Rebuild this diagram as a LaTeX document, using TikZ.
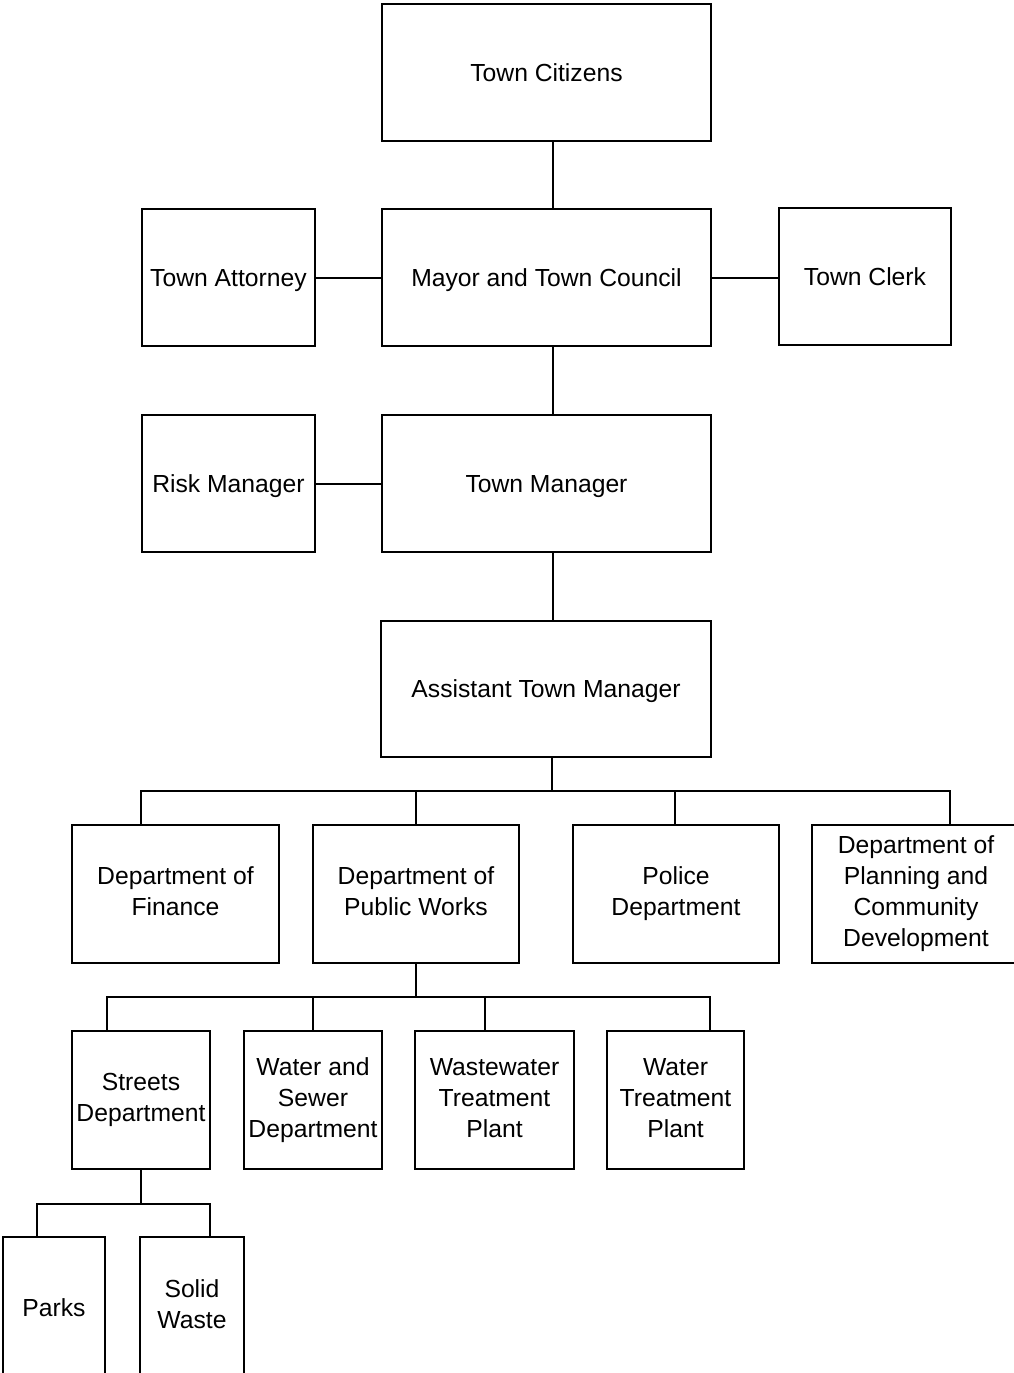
\documentclass[tikz,border=0pt]{standalone}
\usepackage{fontspec}
\setmainfont{Liberation Sans}
\newcommand{\tstrut}{\rule[-5pt]{0pt}{28pt}}
\begin{document}
\begin{tikzpicture}[x={(1pt,0)}, y={(0,-1pt)},
  box/.style={draw, line width=1.9pt, align=center, inner sep=0pt,
    font=\fontsize{24.7}{31}\selectfont,
    execute at begin node=\tstrut, execute at end node=\tstrut},
  link/.style={line width=2pt}]
\fill[white] (0,0) rectangle (1013,1373);
\useasboundingbox (0,0) rectangle (1013,1373);
% top levels
\node[box, minimum width=329, minimum height=137] (cit) at (546.5,72.5) {Town Citizens};
\node[box, minimum width=329, minimum height=137] (mayor) at (546.5,277.5) {Mayor and Town Council};
\node[box, minimum width=173, minimum height=137] (att) at (228.5,277.5) {Town Attorney};
\node[box, minimum width=172, minimum height=137] (clerk) at (865,276.5) {Town Clerk};
\node[box, minimum width=173, minimum height=137] (risk) at (228.5,483.5) {Risk Manager};
\node[box, minimum width=329, minimum height=137] (tm) at (546.5,483.5) {Town Manager};
\node[box, minimum width=330, minimum height=136] (atm) at (546,689) {Assistant Town Manager};
% departments
\node[box, minimum width=207, minimum height=138] (fin) at (175.5,894) {Department of\\Finance};
\node[box, minimum width=206, minimum height=138] (pw) at (416,894) {Department of\\Public Works};
\node[box, minimum width=206, minimum height=138] (pol) at (676,894) {Police\\Department};
\node[box, minimum width=208, minimum height=138] (plan) at (916,894) {Department of\\Planning and\\Community\\Development};
% public works
\node[box, minimum width=138, minimum height=138] (str) at (141,1100) {Streets\\Department};
\node[box, minimum width=138, minimum height=138] (ws) at (313,1100) {Water and\\Sewer\\Department};
\node[box, minimum width=159, minimum height=138] (ww) at (494.5,1100) {Wastewater\\Treatment\\Plant};
\node[box, minimum width=137, minimum height=138] (wt) at (675.5,1100) {Water\\Treatment\\Plant};
% streets
\node[box, minimum width=102, minimum height=140] (parks) at (54,1307) {Parks};
\node[box, minimum width=104, minimum height=140] (sw) at (192,1307) {Solid\\Waste};
% connectors
\draw[link] ([xshift=6.5]cit.south) -- ([xshift=6.5]mayor.north);
\draw[link] ([xshift=6.5]mayor.south) -- ([xshift=6.5]tm.north);
\draw[link] ([xshift=6.5]tm.south) -- ([xshift=7]atm.north);
\draw[link] (att.east) -- (mayor.west);
\draw[link] (mayor.east) -- (clerk.west |- mayor.east);
\draw[link] (risk.east) -- (tm.west);
% bus 1
\coordinate (bus1) at (552,791);
\draw[link] ([xshift=6]atm.south) -- (bus1);
\draw[link] ([xshift=-34.5]fin.north) |- (bus1);
\draw[link] ([xshift=34]plan.north) |- (bus1);
\draw[link] (pw.north) -- (pw.north |- bus1);
\draw[link] ([xshift=-1]pol.north) -- ([xshift=-1]pol.north |- bus1);
% bus 2
\coordinate (bus2) at (416,997);
\draw[link] (pw.south) -- (bus2);
\draw[link] ([xshift=-34]str.north) |- (bus2);
\draw[link] ([xshift=34.5]wt.north) |- (bus2);
\draw[link] (ws.north) -- (ws.north |- bus2);
\draw[link] ([xshift=-9.5]ww.north) -- ([xshift=-9.5]ww.north |- bus2);
% bus 3
\coordinate (bus3) at (141,1204);
\draw[link] (str.south) -- (bus3);
\draw[link] ([xshift=-17]parks.north) |- (bus3);
\draw[link] ([xshift=18]sw.north) |- (bus3);
\end{tikzpicture}
\end{document}
